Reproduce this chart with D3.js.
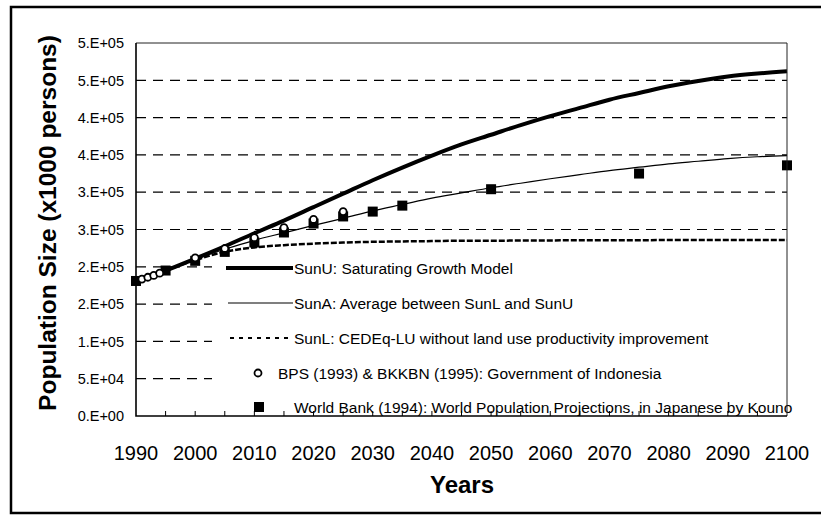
<!DOCTYPE html>
<html>
<head>
<meta charset="utf-8">
<script src="https://cdnjs.cloudflare.com/ajax/libs/d3/7.8.5/d3.min.js"></script>
<style>
body { margin: 0; background: white; }
text { font-family: "Liberation Sans", Arial, sans-serif; fill: black; }
</style>
</head>
<body>
<script>
// model years (every 5 years)
const years = [1990, 1995, 2000, 2005, 2010, 2015, 2020, 2025, 2030, 2035, 2040, 2045,
               2050, 2055, 2060, 2065, 2070, 2075, 2080, 2085, 2090, 2095, 2100];
// population, x1000 persons
const sunU = [181000, 195000, 211000, 227500, 245000, 262000, 280000, 298000, 316000, 333000, 349000, 364000,
              377000, 390000, 402000, 413000, 424000, 433000, 442000, 449000, 455000, 459000, 462000];
const sunA = [181000, 195000, 210000, 223500, 235500, 245500, 255500, 265000, 275000, 283500, 292000, 299000,
              306000, 312000, 318000, 323500, 329000, 333500, 338000, 341500, 345000, 347500, 349000];
const sunL = [181000, 195000, 209000, 220000, 226000, 229000, 231000, 232500, 233500, 234000, 234500, 235000,
              235000, 235200, 235400, 235500, 235600, 235700, 235800, 235900, 236000, 236000, 236000];

const bpsYears = [1991, 1992, 1993, 1994, 2000, 2005, 2010, 2015, 2020, 2025];
const bpsPop   = [183500, 186000, 188500, 191500, 212000, 224500, 239000, 252500, 263500, 274000];

const wbYears = [1990, 1995, 2000, 2005, 2010, 2015, 2020, 2025, 2030, 2035, 2050, 2075, 2100];
const wbPop   = [181000, 195000, 208000, 220000, 232500, 246000, 258000, 267500, 274000, 282000, 304000, 325000, 336000];

const yTicks = [0, 50000, 100000, 150000, 200000, 250000, 300000, 350000, 400000, 450000, 500000];
const yTickLabels = ["0.E+00", "5.E+04", "1.E+05", "2.E+05", "2.E+05", "3.E+05",
                     "3.E+05", "4.E+05", "4.E+05", "5.E+05", "5.E+05"];
const xTicks = [1990, 2000, 2010, 2020, 2030, 2040, 2050, 2060, 2070, 2080, 2090, 2100];

const legendLabels = [
  "SunU: Saturating Growth Model",
  "SunA: Average between SunL and SunU",
  "SunL: CEDEq-LU without land use productivity improvement",
  "BPS (1993) & BKKBN (1995): Government of Indonesia",
  "World Bank (1994): World Population Projections, in Japanese by Kouno"
];

const W = 821, H = 516;
const svg = d3.select("body").append("svg").attr("width", W).attr("height", H);

const pL = 136, pR = 787, pT = 43, pB = 416;
const x = d3.scaleLinear().domain([1990, 2100]).range([pL, pR]);
const y = d3.scaleLinear().domain([0, 500000]).range([pB, pT]);

// outer frame
svg.append("rect")
   .attr("x", 11).attr("y", 7).attr("width", 815).attr("height", 506)
   .attr("fill", "none").attr("stroke", "black").attr("stroke-width", 2.5);

// dashed gridlines
svg.append("g").selectAll("line").data(yTicks.slice(1, -1)).enter()
   .append("line")
   .attr("x1", pL).attr("x2", pR)
   .attr("y1", d => y(d)).attr("y2", d => y(d))
   .attr("stroke", "black").attr("stroke-width", 1.2)
   .attr("stroke-dasharray", "10,7");

// legend background hides the grid
svg.append("rect")
   .attr("x", 212).attr("y", 256).attr("width", 600).attr("height", pB - 256)
   .attr("fill", "white");

const curve = d3.line().curve(d3.curveMonotoneX)
                .x((d, i) => x(years[i])).y(d => y(d));

svg.append("path").attr("d", curve(sunL)).attr("fill", "none")
   .attr("stroke", "black").attr("stroke-width", 2.5).attr("stroke-dasharray", "6,2");
svg.append("path").attr("d", curve(sunA)).attr("fill", "none")
   .attr("stroke", "black").attr("stroke-width", 1.2);
svg.append("path").attr("d", curve(sunU)).attr("fill", "none")
   .attr("stroke", "black").attr("stroke-width", 4).attr("stroke-linejoin", "round");

// World Bank squares
svg.append("g").selectAll("rect").data(wbYears).enter()
   .append("rect")
   .attr("x", (d) => x(d) - 5).attr("y", (d, i) => y(wbPop[i]) - 5)
   .attr("width", 10).attr("height", 10).attr("fill", "black");

// BPS circles
svg.append("g").selectAll("circle").data(bpsYears).enter()
   .append("circle")
   .attr("cx", d => x(d)).attr("cy", (d, i) => y(bpsPop[i]))
   .attr("r", 3.5).attr("fill", "white").attr("stroke", "black").attr("stroke-width", 1.8);

// legend
const legY = [268, 303, 338, 373, 407];
const lg = svg.append("g");
lg.append("line").attr("x1", 226).attr("x2", 293).attr("y1", legY[0]).attr("y2", legY[0])
  .attr("stroke", "black").attr("stroke-width", 4);
lg.append("line").attr("x1", 228).attr("x2", 293).attr("y1", legY[1]).attr("y2", legY[1])
  .attr("stroke", "black").attr("stroke-width", 1.2);
lg.append("line").attr("x1", 230).attr("x2", 293).attr("y1", legY[2]).attr("y2", legY[2])
  .attr("stroke", "black").attr("stroke-width", 2).attr("stroke-dasharray", "4,5");
lg.append("circle").attr("cx", 258).attr("cy", legY[3]).attr("r", 3.5)
  .attr("fill", "white").attr("stroke", "black").attr("stroke-width", 1.8);
lg.append("rect").attr("x", 254).attr("y", legY[4] - 5).attr("width", 10).attr("height", 10)
  .attr("fill", "black");
const legX = [294, 294, 294, 278, 294];
lg.selectAll("text").data(legendLabels).enter()
  .append("text")
  .attr("x", (d, i) => legX[i]).attr("y", (d, i) => legY[i])
  .attr("dy", "0.36em")
  .attr("font-size", 15.5)
  .text(d => d);

// plot frame: thin top/right, solid left/bottom
svg.append("path")
   .attr("d", `M${pL},${pT}H${pR}V${pB}`)
   .attr("fill", "none").attr("stroke", "#222").attr("stroke-width", 1);
svg.append("path")
   .attr("d", `M${pL},${pT}V${pB}H${pR}`)
   .attr("fill", "none").attr("stroke", "black").attr("stroke-width", 1.6);

// x axis small inside ticks every 5 years
svg.append("g").selectAll("line").data(years.slice(1, -1)).enter()
   .append("line")
   .attr("x1", d => x(d)).attr("x2", d => x(d))
   .attr("y1", pB).attr("y2", pB - 5)
   .attr("stroke", "black").attr("stroke-width", 1);

// tick labels
svg.append("g").selectAll("text").data(yTicks).enter()
   .append("text")
   .attr("x", 124).attr("y", d => y(d)).attr("dy", "0.36em")
   .attr("text-anchor", "end").attr("font-size", 14.5)
   .text((d, i) => yTickLabels[i]);

svg.append("g").selectAll("text").data(xTicks).enter()
   .append("text")
   .attr("x", d => x(d)).attr("y", 460)
   .attr("text-anchor", "middle").attr("font-size", 20)
   .text(d => d);

// axis titles
svg.append("text")
   .attr("text-anchor", "middle").attr("font-size", 24.5).attr("font-weight", "bold")
   .attr("transform", `translate(56, 223) rotate(-90)`)
   .text("Population Size (x1000 persons)");

svg.append("text")
   .attr("text-anchor", "middle").attr("font-size", 24).attr("font-weight", "bold")
   .attr("x", 462).attr("y", 493)
   .text("Years");
</script>
</body>
</html>
